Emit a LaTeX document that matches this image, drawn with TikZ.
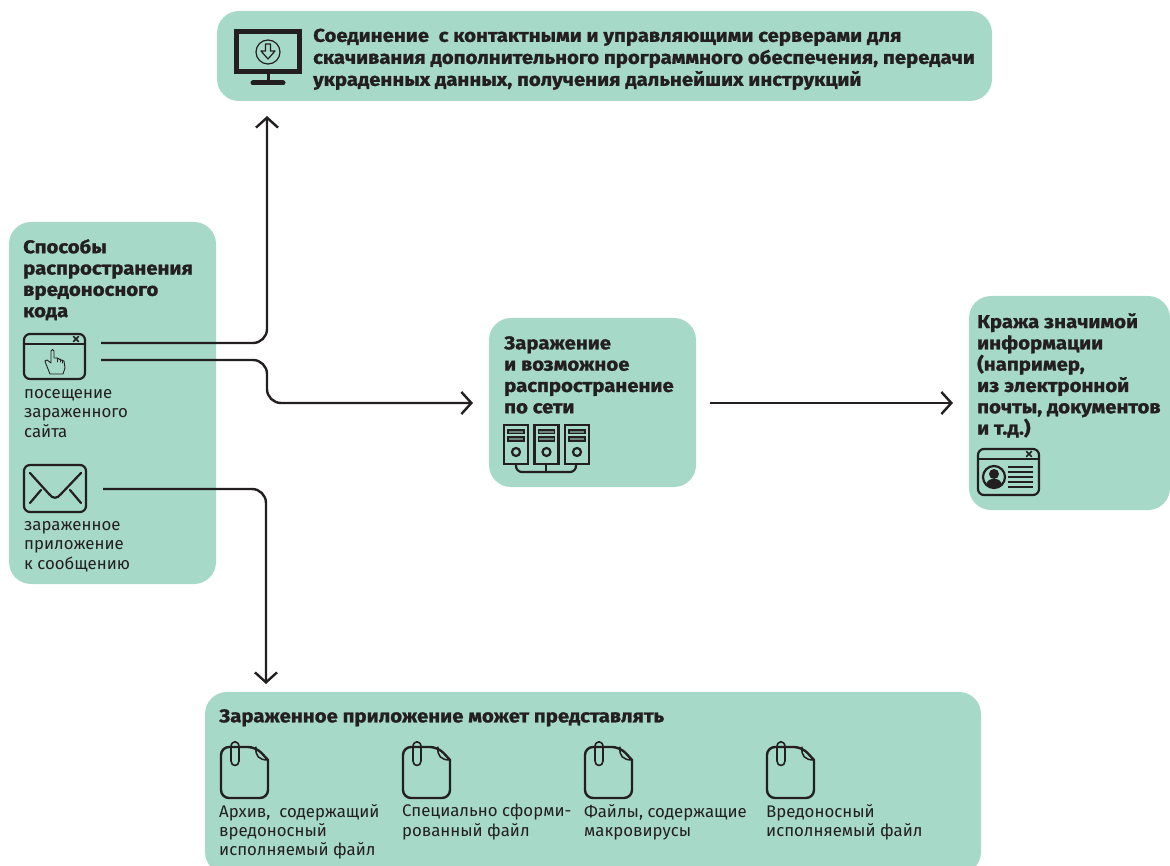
\documentclass[tikz,border=0pt]{standalone}
\usepackage{fontspec}
\setmainfont{Fira Sans}
\newfontfamily\headfont[UprightFont={* Bold},FakeStretch=1.1,FakeBold=1.2]{Fira Sans}
\usetikzlibrary{arrows.meta}
\definecolor{panel}{HTML}{A6D9C8}
\definecolor{ink}{HTML}{231F20}
\tikzset{
  x=1pt,y=-1pt,
  panelbox/.style={fill=panel,draw=none,rounded corners=22pt},
  headtext/.style={anchor=north west,inner sep=0pt,align=left,text=ink,font=\fontsize{18.5}{21.3}\selectfont\headfont},
  bodytext/.style={anchor=north west,inner sep=0pt,align=left,text=ink,font=\fontsize{16.8}{19.4}\selectfont},
  conn/.style={draw=ink,line width=2.4pt,rounded corners=14pt,-{Straight Barb[length=10pt,width=22pt,line width=2.4pt]}},
  icon/.style={draw=ink,line width=2.2pt,line join=round,line cap=round},
  thinicon/.style={draw=ink,line width=1pt,line join=round,line cap=round},
  fileicon/.pic={
    \draw[icon,line width=2.4pt,rounded corners=8pt] (0,0) -- (0,-51) -- (35,-51)
      [sharp corners] -- (47,-38) [rounded corners=8pt] -- (47,0) -- cycle;
    \draw[icon,line width=1.5pt] (35,-51) .. controls (34,-42) and (38,-38) .. (47,-38);
    \draw[icon,line width=1.6pt] (10,-45) -- (10,-37) .. controls (10,-31) and (18,-31) .. (18,-37)
      -- (18,-51) .. controls (18,-58) and (10,-58) .. (10,-51) -- (10,-45);
  },
  winclose/.pic={
    \draw[icon,line width=1.6pt] (-2.5,-2.5) -- (2.5,2.5) (-2.5,2.5) -- (2.5,-2.5);
  },
  servericon/.pic={
    \draw[icon,line join=miter] (0,0) rectangle (24,39);
    \draw[thinicon,line width=1.2pt,line join=miter,fill=ink!45!panel] (4,5) rectangle (20,8.5) (4,12) rectangle (20,16);
    \draw[icon] (12,27) circle (4);
  }
}
\begin{document}
\begin{tikzpicture}
\useasboundingbox (0,0) rectangle (1170,866);
\clip (0,0) rectangle (1170,866);

% panels
\fill[panelbox] (217,11) rectangle (992,101);
\fill[panelbox] (9,222) rectangle (216,584);
\fill[panelbox] (489,318) rectangle (696,487);
\fill[panelbox] (969,296) rectangle (1170,510);
\fill[panelbox] (205,692) rectangle (981,874);

\coordinate (webA) at (101,343);
\coordinate (webB) at (101,360);
\coordinate (mailA) at (103,489);
\coordinate (midOut) at (710,403);
\coordinate (topIn) at (267,116);
\coordinate (midIn) at (473,403);
\coordinate (rightIn) at (953,403);
\coordinate (botIn) at (266,684);

% connectors
\draw[conn] (webA) -- (webA -| topIn) -- (topIn);
\draw[conn] (webB) -- (267,360) -- (267,403) -- (midIn);
\draw[conn] (mailA) -- (mailA -| botIn) -- (botIn);
\draw[conn] (midOut) -- (rightIn);

% texts
\node[headtext,font=\fontsize{18.5}{22}\selectfont\headfont] (toptext) at (313,28.5) {Соединение\ \ с контактными и управляющими серверами для\\скачивания дополнительного программного обеспечения, передачи\\украденных данных, получения дальнейших инструкций};
\node[headtext] (lefttext) at (23,239) {Способы\\распространения\\вредоносного\\кода};
\node[bodytext] (webtext) at (24,389) {посещение\\зараженного\\сайта};
\node[bodytext] (mailtext) at (24,521) {зараженное\\приложение\\к сообщению};
\node[headtext] (midtext) at (504,336) {Заражение\\и возможное\\распространение\\по сети};
\node[headtext] (righttext) at (977,313) {Кража значимой\\информации\\(например,\\из электронной\\почты, документов\\и т.д.)};
\node[headtext] (bottext) at (219,709) {Зараженное приложение может представлять};
\node[bodytext] (f1text) at (219,804) {Архив,\ \ содержащий\\вредоносный\\исполняемый файл};
\node[bodytext] (f2text) at (402,804) {Специально сформи-\\рованный файл};
\node[bodytext] (f3text) at (584,804) {Файлы, содержащие\\макровирусы};
\node[bodytext] (f4text) at (766,804) {Вредоносный\\исполняемый файл};

% monitor icon
\draw[icon,line width=5pt,line join=miter] (236.5,31.5) rectangle (299.5,71.5);
\draw[draw=ink,line width=3pt] (268,74) -- (268,83);
\draw[draw=ink,line width=5pt,line cap=round] (253,83) -- (283,83);
\draw[thinicon,line width=1.2pt] (268,52) circle (12);
\draw[thinicon,line width=1.2pt] (265.5,44) -- (270.5,44) -- (270.5,51) -- (275,51) -- (268,59) -- (261,51) -- (265.5,51) -- cycle;

% web icon
\draw[icon,rounded corners=6pt] (24,334) rectangle (85,379);
\draw[icon] (24,344) -- (85,344);
\pic at (76,339) {winclose};
\draw[thinicon,fill=panel,line width=.9pt] (50,374) -- (46,364) -- (45,361) -- (47,360) -- (51,363) -- (51,351)
  .. controls (51,349) and (54,349) .. (54,351) -- (54,358) -- (57,358) -- (59,359) -- (61,360) -- (64,361)
  -- (65,368) -- (63,374) -- cycle;
\draw[thinicon,line width=.9pt] (57,358) -- (57,362) (60,359) -- (60,362) (62,360) -- (62,363);

% envelope icon
\draw[icon,rounded corners=6pt] (24,465) rectangle (86,512);
\draw[icon] (30,473) -- (49,494) .. controls (53,499) and (57,499) .. (61,494) -- (81,473);
\draw[icon] (30,503) -- (41,490) (81,503) -- (70,490);

% servers
\pic at (504,425) {servericon};
\pic at (534.5,425) {servericon};
\pic at (565,425) {servericon};
\draw[icon,rounded corners=6pt] (516,464) -- (516,472) -- (576,472) -- (576,464);
\draw[icon] (546,464) -- (546,472);

% card icon
\draw[icon,rounded corners=6pt] (978,449) rectangle (1039,495);
\draw[icon] (978,459) -- (1039,459);
\pic at (1029,454) {winclose};
\draw[icon] (994,477) circle (11);
\fill[ink] (994,474) circle (5);
\fill[ink] (986,485) .. controls (987,480) and (990,479) .. (994,479) .. controls (998,479) and (1001,480) .. (1002,485)
  .. controls (999,488.5) and (989,488.5) .. (986,485) -- cycle;
\draw[icon,line width=1.5pt,line cap=butt] (1008,467) -- (1033,467) (1008,472) -- (1033,472) (1008,477) -- (1033,477) (1008,482) -- (1033,482) (1008,487) -- (1033,487);

% file icons
\pic at (221,798) {fileicon};
\pic at (403,798) {fileicon};
\pic at (585,798) {fileicon};
\pic at (767,798) {fileicon};
\end{tikzpicture}
\end{document}
